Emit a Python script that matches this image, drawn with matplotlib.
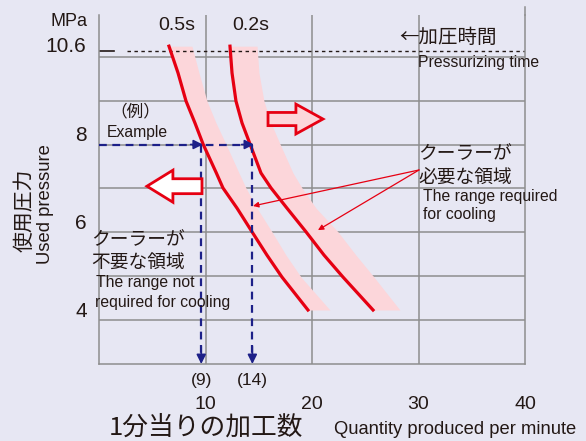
import matplotlib
matplotlib.use("Agg")
import matplotlib.pyplot as plt
from matplotlib.patches import FancyArrow

# values
pressure = [10.24, 9.63, 8.99, 8.49, 8.01, 7.35, 7.01, 6.55, 6.01, 5.48, 4.98, 4.23]
curve_05s = [6.57, 7.42, 8.17, 9.01, 9.77, 11.02, 11.64, 12.96, 14.37, 15.77, 17.18, 19.62]
curve_02s = [12.30, 12.49, 12.86, 13.43, 14.18, 15.21, 16.15, 17.65, 19.44, 21.13, 22.91, 25.73]
band_05s = [8.73, 9.39, 10.14, 10.99, 11.92, 13.15, 13.80, 14.84, 16.24, 17.56, 18.97, 21.69]
band_02s = [14.84, 15.02, 15.49, 16.15, 17.00, 18.22, 19.06, 20.38, 22.44, 24.13, 25.82, 28.26]
x_ticks = [10, 20, 30, 40]
y_ticks = [8, 6, 4]
y_grid = [4, 5, 6, 7, 8, 9, 10]
example_p = 8
example_q = [9.6, 14.4]
example_labels = ["(9)", "(14)"]
press_line = 10.13

bg = "#e7e7f3"
grid = "#8e8e8e"
red = "#e60012"
pink = "#fcd6da"
navy = "#1d2088"
ink = "#231815"
jp = ["Noto Sans CJK JP", "Liberation Sans"]

plt.rcParams["font.family"] = ["Liberation Sans", "Noto Sans CJK JP"]

W, H = 586, 441
fig = plt.figure(figsize=(W / 100, H / 100), dpi=100, facecolor=bg)
ax = fig.add_axes([99 / W, 77 / H, 426 / W, 349 / H])
ax.set_facecolor(bg)
ax.set_xlim(0, 40)
ax.set_ylim(3, 10.95)


def ftext(x, y, s, **kw):
    kw.setdefault("color", ink)
    kw.setdefault("va", "center")
    fig.text(x / W, 1 - y / H, s, **kw)


# grid
for y in y_grid:
    ax.axhline(y, color=grid, lw=1.1, zorder=0)
for x in x_ticks[:-1]:
    ax.axvline(x, color=grid, lw=1.1, zorder=0)
for side in ["left", "bottom", "right"]:
    ax.spines[side].set_color(grid)
    ax.spines[side].set_linewidth(1.1)
ax.spines["top"].set_visible(False)
ax.plot([40, 40], [10.95, 11.13], color=grid, lw=1.1, clip_on=False)

ax.set_xticks(x_ticks)
ax.set_xticklabels([str(t) for t in x_ticks], fontsize=14, color=ink)
ax.tick_params(axis="x", length=0, pad=23)
ax.set_yticks([])
for t in y_ticks:
    ax.annotate(str(t), xy=(0, t), xycoords=("axes fraction", "data"),
                xytext=(-12, 9), textcoords="offset pixels",
                ha="right", va="center", fontsize=15, color=ink)

# bands and curves
ax.fill_betweenx(pressure, curve_05s, band_05s, color=pink, lw=0, zorder=1)
ax.fill_betweenx(pressure, curve_02s, band_02s, color=pink, lw=0, zorder=1)
ax.plot(curve_05s, pressure, color=red, lw=2.3, zorder=3, solid_joinstyle="round")
ax.plot(curve_02s, pressure, color=red, lw=2.3, zorder=3, solid_joinstyle="round")

# pressurizing time line
ax.plot([2.6, 40], [press_line, press_line], color=ink, lw=1, ls=(0, (2.5, 2.5)))
ax.plot([0, 1.4], [press_line, press_line], color=ink, lw=1.2)

# example dashed arrows
ax.plot([0, example_q[1]], [example_p, example_p], color=navy, lw=1.6,
        ls=(0, (3.5, 2.5)), zorder=4)
for q in example_q:
    ax.plot([q, q], [example_p, 3.2], color=navy, lw=1.6, ls=(0, (3.5, 2.5)), zorder=4)
    ax.annotate("", xy=(q, 3.0), xytext=(q, 3.4),
                arrowprops=dict(arrowstyle="-|>", color=navy, lw=1.2,
                                mutation_scale=14, shrinkA=0, shrinkB=0), zorder=5)
    ax.annotate("", xy=(q + 0.15, example_p), xytext=(q - 1.0, example_p),
                arrowprops=dict(arrowstyle="-|>", color=navy, lw=1.2,
                                mutation_scale=14, shrinkA=0, shrinkB=0), zorder=5)

# block arrows
ax.add_patch(FancyArrow(15.87, 8.58, 5.16, 0, width=0.30, head_width=0.68,
                        head_length=2.54, length_includes_head=True,
                        facecolor=pink, edgecolor=red, lw=2, zorder=4))
ax.add_patch(FancyArrow(9.67, 7.05, -5.17, 0, width=0.34, head_width=0.73,
                        head_length=2.44, length_includes_head=True,
                        facecolor="white", edgecolor=red, lw=2, zorder=4))

# thin red pointers
for tip in [(14.46, 6.6), (20.56, 6.05)]:
    ax.annotate("", xy=tip, xytext=(30.05, 7.42),
                arrowprops=dict(arrowstyle="-|>", color=red, lw=0.9,
                                mutation_scale=8, shrinkA=0, shrinkB=0), zorder=5)

# texts
ftext(87, 22, "MPa", ha="right", fontsize=13)
ftext(86, 47, "10.6", ha="right", fontsize=15)
ftext(177, 25, "0.5s", ha="center", fontsize=14)
ftext(251, 25, "0.2s", ha="center", fontsize=14)
ftext(399, 37, "←加圧時間", ha="left", fontsize=14, family=jp)
ftext(418, 62, "Pressurizing time", ha="left", fontsize=11.3)
ftext(135, 112, "（例）", ha="center", fontsize=12, family=jp)
ftext(107, 132, "Example", ha="left", fontsize=11.3)
ftext(418, 154, "クーラーが", ha="left", fontsize=13.5, family=jp)
ftext(418, 177, "必要な領域", ha="left", fontsize=13.5, family=jp)
ftext(423, 196, "The range required", ha="left", fontsize=11.3)
ftext(423, 215, "for cooling", ha="left", fontsize=11.3)
ftext(91, 240, "クーラーが", ha="left", fontsize=13.5, family=jp)
ftext(91, 262, "不要な領域", ha="left", fontsize=13.5, family=jp)
ftext(96, 283, "The range not", ha="left", fontsize=11.3)
ftext(95, 302, "required for cooling", ha="left", fontsize=11.3)
for q, lab in zip(example_q, example_labels):
    ax.annotate(lab, xy=(q, 3), xytext=(0, -16), textcoords="offset pixels",
                ha="center", va="center", fontsize=12.5, color=ink, annotation_clip=False)

ftext(25, 210, "使用圧力", ha="center", rotation=90, fontsize=15, family=jp)
ftext(46, 204, "Used pressure", ha="center", rotation=90, fontsize=13.3)
ftext(206, 428, "1分当りの加工数", ha="center", fontsize=18.5, family=jp)
ftext(334, 430, "Quantity produced per minute", ha="left", fontsize=13.2)

fig.savefig("out.png", dpi=100, facecolor=bg)
